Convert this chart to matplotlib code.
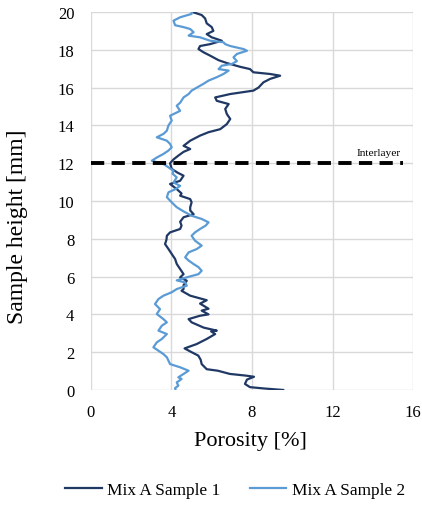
import matplotlib
matplotlib.use('Agg')
import matplotlib.pyplot as plt

plt.rcParams['font.family'] = ['Liberation Serif', 'DejaVu Serif']

# sample height [mm] and porosity [%]
h1 = [0.0, 0.08, 0.15, 0.32, 0.55, 0.7, 0.76, 0.85, 1.02, 1.1, 1.37, 1.6, 1.82, 2.0, 2.2,
      2.43, 2.7, 2.96, 3.1, 3.14, 3.3, 3.58, 3.75, 3.93, 4.0, 4.2, 4.3, 4.57, 4.75, 4.99,
      5.25, 5.34, 5.55, 5.78, 5.96, 6.13, 6.4, 6.67, 6.93, 7.2, 7.46, 7.72, 7.95, 8.16,
      8.34, 8.52, 8.7, 8.9, 9.14, 9.3, 9.5, 9.67, 9.93, 10.1, 10.28, 10.4, 10.63, 10.9,
      11.07, 11.34, 11.5, 11.7, 12.0, 12.2, 12.4, 12.6, 12.75, 12.92, 13.19, 13.46, 13.64,
      13.8, 14.07, 14.34, 14.6, 14.87, 15.13, 15.3, 15.48, 15.66, 15.84, 16.0, 16.28,
      16.46, 16.63, 16.72, 16.81, 16.98, 17.1, 17.3, 17.45, 17.69, 17.87, 18.04, 18.2,
      18.3, 18.48, 18.66, 18.83, 19.0, 19.2, 19.4, 19.66, 19.84, 19.98]
p1 = [9.55, 8.6, 7.9, 7.65, 7.75, 8.1, 7.7, 6.9, 6.3, 5.75, 5.5, 5.45, 5.33, 5.0, 4.65,
      5.25, 5.75, 6.17, 5.97, 6.25, 5.6, 5.0, 4.85, 5.42, 5.84, 5.5, 5.84, 5.42, 5.75, 4.93,
      4.5, 4.6, 4.6, 4.76, 4.43, 4.6, 4.43, 4.26, 4.18, 4.01, 3.85, 3.68, 3.75, 3.77,
      3.93, 4.43, 4.5, 4.43, 4.6, 5.1, 4.93, 4.93, 5.0, 4.93, 4.43, 4.5, 4.26, 3.93,
      4.43, 4.6, 4.3, 4.01, 3.93, 4.1, 4.34, 4.6, 4.93, 4.6, 4.93, 5.42, 5.84,
      6.42, 6.75, 6.92, 6.75, 6.67, 6.84, 6.25, 6.17, 6.92, 8.07, 8.32, 8.57,
      8.9, 9.4, 8.9, 8.07, 7.9, 7.41, 6.75, 6.34, 5.92, 5.59, 5.34, 5.42,
      5.92, 6.5, 6.0, 5.75, 6.08, 6.0, 5.75, 5.67, 5.5, 5.1]

h2 = [0.0, 0.1, 0.23, 0.4, 0.58, 0.67, 0.85, 1.02, 1.2, 1.37, 1.55, 1.73, 1.9, 2.08, 2.26,
      2.52, 2.7, 2.96, 3.14, 3.4, 3.58, 3.75, 4.02, 4.28, 4.55, 4.81, 4.99, 5.17, 5.34,
      5.52, 5.69, 5.8, 5.96, 6.13, 6.31, 6.5, 6.67, 6.85, 7.02, 7.28, 7.46, 7.64, 7.9,
      8.16, 8.34, 8.52, 8.7, 8.87, 9.05, 9.22, 9.45, 9.67, 9.93, 10.2, 10.46, 10.63, 10.8,
      10.98, 11.25, 11.45, 11.6, 11.78, 11.96, 12.13, 12.3, 12.49, 12.67, 12.84, 13.02,
      13.19, 13.37, 13.55, 13.72, 14.0, 14.25, 14.51, 14.77, 15.04, 15.2, 15.48, 15.66,
      15.84, 16.0, 16.2, 16.37, 16.55, 16.72, 16.9, 16.98, 17.16, 17.25, 17.4, 17.6,
      17.78, 17.95, 18.04, 18.2, 18.3, 18.4, 18.48, 18.66, 18.75, 18.93, 19.1, 19.2,
      19.3, 19.54, 19.72, 19.9, 19.98]
p2 = [4.2, 4.18, 4.34, 4.26, 4.5, 4.34, 4.6, 4.85, 4.43, 3.93, 3.85, 3.77, 3.6, 3.35, 3.1,
      3.27, 3.52, 3.77, 3.35, 3.52, 3.77, 3.6, 3.27, 3.43, 3.18, 3.35, 3.6, 4.01, 4.26,
      4.76, 4.68, 4.26, 4.76, 5.34, 5.5, 5.34, 5.09, 4.85, 4.68, 4.85, 5.26, 5.5, 5.17,
      5.0, 5.17, 5.42, 5.7, 5.84, 5.5, 5.0, 4.6, 4.26, 4.01, 3.77, 3.85, 4.2, 4.43,
      4.1, 4.26, 4.05, 4.1, 3.85, 3.6, 3.02, 3.27, 3.6, 3.85, 4.01, 3.93,
      3.77, 3.27, 3.6, 3.77, 3.85, 4.01, 3.93, 4.43, 4.26, 4.43, 4.6, 4.85,
      5.0, 5.26, 5.59, 5.84, 6.25, 6.58, 6.84, 6.34, 6.5, 7.0, 7.25, 7.08,
      7.25, 7.75, 7.58, 6.92, 6.67, 6.58, 5.92, 5.42, 4.85, 5.1, 4.93, 4.6,
      4.18, 4.1, 4.43, 5.0, 5.0]

labels = ['Mix A Sample 1', 'Mix A Sample 2']
interlayer = 12

fig = plt.figure(figsize=(4.22, 5.06), dpi=100)
ax = fig.add_axes([0.2156, 0.2273, 0.9787 - 0.2156, 0.9743 - 0.2273])

ax.plot(p1, h1, color='#203864', lw=1.6, label=labels[0])
ax.plot(p2, h2, color='#5b9bd5', lw=1.6, label=labels[1])
ax.plot([0, 15.5], [interlayer, interlayer], color='black', lw=2.8,
        dashes=(3.4, 1.9))
ax.text(15.4, interlayer + 0.35, 'Interlayer', fontsize=8.2, ha='right', va='bottom')

ax.set_xlim(0, 16)
ax.set_ylim(0, 20)
ax.set_xticks([0, 4, 8, 12, 16])
ax.set_yticks(range(0, 21, 2))
ax.grid(color='#d9d9d9', lw=1)
ax.set_axisbelow(True)
for s in ax.spines.values():
    s.set_visible(False)
ax.tick_params(length=0, labelsize=12, pad=10)
ax.tick_params(axis='y', pad=12)
ax.set_xlabel('Porosity [%]', fontsize=16)
ax.set_ylabel('Sample height [mm]', fontsize=17)
ax.xaxis.set_label_coords(0.494, -0.108)
ax.yaxis.set_label_coords(-0.196, 0.434)

fig.legend(loc='center', bbox_to_anchor=(0.557, 0.03), ncol=2, frameon=False,
           fontsize=12.4, handlelength=2.1, handletextpad=0.3, columnspacing=1.75)

fig.savefig('out.png', dpi=100)
